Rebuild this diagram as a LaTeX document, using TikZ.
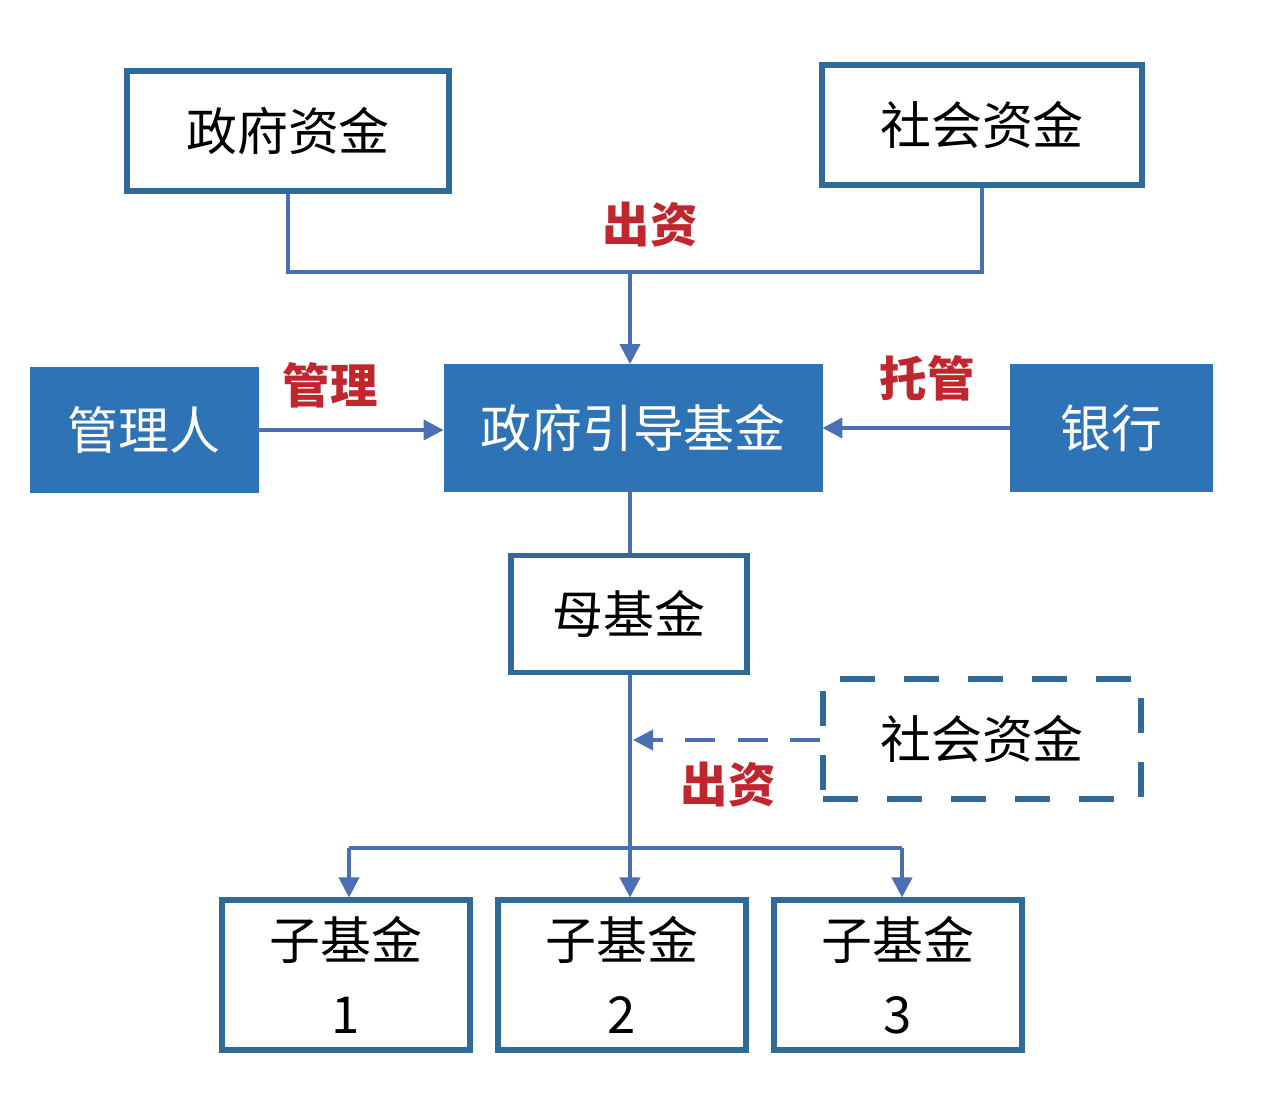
\documentclass[tikz,border=0pt]{standalone}
\usepackage{fontspec}
\setmainfont{Noto Sans CJK SC}
\usetikzlibrary{arrows.meta}
\definecolor{boxline}{HTML}{2F6A99}
\definecolor{boxfill}{HTML}{2E73B5}
\definecolor{conn}{HTML}{4A6FB5}
\definecolor{lblred}{HTML}{C0262D}
\tikzset{
  outbox/.style={draw=boxline, line width=2.9pt, fill=white, minimum width=#1, text=black, font=\fontsize{29}{34}\selectfont, inner sep=0pt},
  fillbox/.style={draw=boxfill, fill=boxfill, line width=0.5pt, minimum width=#1, text=white, font=\fontsize{29}{34}\selectfont, inner sep=0pt},
  dashbox/.style={draw=boxline, line width=3.2pt, dash pattern=on 0.7cm off 0.58cm, fill=white, minimum width=#1, text=black, font=\fontsize{29}{34}\selectfont, inner sep=0pt},
  conline/.style={draw=conn, line width=2.2pt},
  arr/.style={conline, -{Triangle[length=0.4cm,width=0.4cm]}},
  lbl/.style={text=lblred, font=\bfseries\fontsize{27}{32}\selectfont}
}
\begin{document}
\begin{tikzpicture}[x=0.02cm,y=-0.02cm]
\useasboundingbox[fill=white] (0,0) rectangle (1263,1113);
% nodes
\node[outbox=6.44cm, minimum height=2.4cm] (gf) at (288,131) {政府资金};
\node[outbox=6.4cm, minimum height=2.4cm] (sf) at (982,125) {社会资金};
\node[fillbox=7.56cm, minimum height=2.54cm] (yd) at (633,428) {政府引导基金};
\node[fillbox=4.56cm, minimum height=2.5cm] (gl) at (144,430) {管理人};
\node[fillbox=4.04cm, minimum height=2.54cm] (yh) at (1111,428) {银行};
\node[outbox=4.72cm, minimum height=2.34cm] (mj) at (629,614) {母基金};
\node[dashbox=6.36cm, minimum height=2.4cm] (ss) at (982,739) {社会资金};
\node[outbox=4.96cm, minimum height=3.0cm, align=center] (z1) at (346,975) {子基金\\[8pt]1};
\node[outbox=4.96cm, minimum height=3.0cm, align=center] (z2) at (622,975) {子基金\\[8pt]2};
\node[outbox=4.96cm, minimum height=3.0cm, align=center] (z3) at (898,975) {子基金\\[8pt]3};
% labels
\node[lbl] (l1) at (650,225) {出资};
\node[lbl] (l2) at (330,385) {管理};
\node[lbl] (l3) at (927,378) {托管};
\node[lbl] (l4) at (728,785) {出资};
% junctions
\coordinate (j1) at (630,272);
\coordinate (j2) at (630,848);
\coordinate (dj) at (633,740);
% connectors
\draw[conline] (gf.south) -- (gf.south |- j1) -- (sf.south |- j1) -- (sf.south);
\draw[arr] (j1) -- (j1 |- yd.north);
\draw[arr] (gl.east) -- (yd.west |- gl.east);
\draw[arr] (yh.west) -- (yd.east);
\draw[conline] (yd.south -| j1) -- (j1 |- mj.north);
\draw[conline] (j1 |- mj.south) -- (j2);
\draw[conline] (349,848) -- (902,848);
\draw[arr] (349,848) -- (349,0 |- z1.north);
\draw[arr] (j2) -- (j2 |- z2.north);
\draw[arr] (902,848) -- (902,0 |- z3.north);
\draw[arr, dash pattern=on 0.6cm off 0.45cm] (ss.west |- dj) -- (dj);
\end{tikzpicture}
\end{document}
